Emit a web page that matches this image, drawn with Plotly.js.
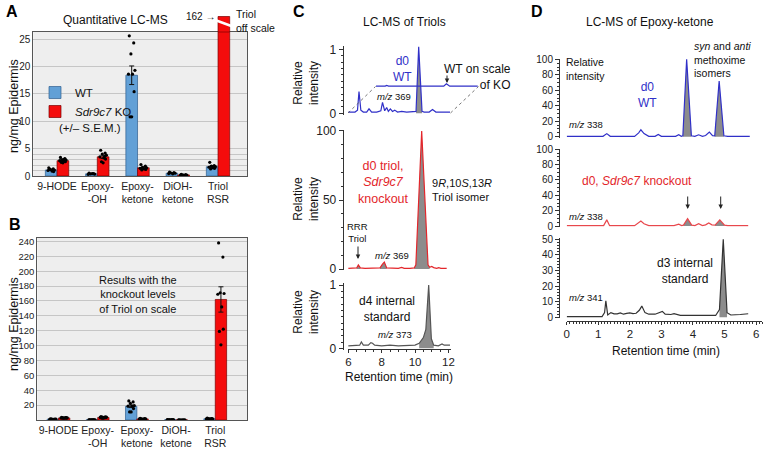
<!DOCTYPE html>
<html><head><meta charset="utf-8">
<script src="https://cdn.plot.ly/plotly-3.0.1.min.js"></script>
<style>html,body{margin:0;padding:0;background:#fff;} #chart{width:768px;height:451px;}</style>
</head><body><div id="chart"></div>
<script>
// ---------- DATA ----------
const categories = ['9-HODE', 'Epoxy-<br>-OH', 'Epoxy-<br>ketone', 'DiOH-<br>ketone', 'Triol<br>RSR'];
const wtMean = [1.1, 0.4, 18.4, 0.5, 1.7];
const wtSem  = [0.12, 0.05, 1.7, 0.05, 0.2];
const koMean = [2.8, 3.5, 1.5, 0.2, 162];
const koSem  = [0.15, 0.3, 0.15, 0.02, 17];
const wtPoints = [
  [1.5, 1.3, 1.2, 1.1, 1.0, 0.9, 0.8, 1.2],
  [0.55, 0.45, 0.4, 0.35, 0.3, 0.45],
  [25.6, 24.3, 22.3, 19.3, 18.6, 18.6, 15.4, 10.8, 10.8],
  [0.7, 0.6, 0.55, 0.5, 0.45, 0.4],
  [2.5, 1.9, 1.8, 1.7, 1.6, 1.5, 1.4, 1.3]
];
const koPoints = [
  [3.4, 3.2, 3.0, 2.9, 2.8, 2.7, 2.6, 2.5, 2.4, 3.1],
  [4.7, 4.2, 4.0, 3.8, 3.5, 3.3, 3.1, 2.6, 2.4, 3.6],
  [2.1, 1.8, 1.6, 1.5, 1.4, 1.3, 1.2, 1.1],
  [0.3, 0.25, 0.2, 0.18, 0.15, 0.12],
  [238, 219, 171, 170, 169, 152, 122, 119, 101]
];
const yTicksA = [0, 1, 2, 3, 4, 5, 10, 15, 20, 25];
const yTickTextA = ['0', '', '', '', '', '5', '10', '15', '20', '25'];
const yTicksB = [20, 40, 60, 80, 100, 120, 140, 160, 180, 200, 220, 240];

// LC-MS of triols (retention time, relative intensity)
const cWtX = [6.0,6.4,6.55,6.64,6.75,6.9,7.1,7.24,7.4,7.7,7.95,8.05,8.18,8.3,8.4,8.52,8.65,8.78,8.95,9.2,9.5,9.9,10.06,10.22,10.42,10.55,10.85,11.05,11.25,11.6,12.1];
const cWtY = [0.02,0.02,0.05,0.34,0.05,0.02,0.02,0.07,0.02,0.02,0.04,0.17,0.04,0.09,0.03,0.07,0.03,0.05,0.02,0.03,0.02,0.02,0.03,1.04,0.03,0.02,0.02,0.06,0.02,0.02,0.02];
const cKoX = [6.0,6.4,6.5,6.6,6.72,7.0,7.5,7.9,8.05,8.16,8.3,8.6,9.0,9.2,9.35,9.7,9.95,10.05,10.4,10.78,10.88,11.0,11.12,11.3,11.42,11.55,11.9];
const cKoY = [0.5,0.5,0.8,3.0,0.8,0.5,0.5,0.8,3.5,5.0,0.8,0.5,0.5,1.2,0.5,0.5,0.8,3.0,100,3.0,1.2,1.8,1.0,0.5,1.0,0.5,0.5];
const cD4X = [6.0,6.5,6.68,6.78,6.9,7.2,7.35,7.45,7.58,8.0,8.5,9.0,9.5,10.0,10.25,10.5,10.65,10.82,10.98,11.12,11.4,11.52,11.62,11.75,12.1];
const cD4Y = [0.04,0.04,0.05,0.1,0.05,0.05,0.09,0.08,0.05,0.04,0.05,0.04,0.04,0.05,0.08,0.17,0.3,1.0,0.15,0.05,0.04,0.05,0.07,0.05,0.05];

// LC-MS of epoxy-ketone
const dWtX = [0,1.15,1.27,1.38,2.15,2.28,2.35,2.45,2.6,2.8,2.9,3.0,3.45,3.55,3.63,3.68,3.8,3.95,4.06,4.18,4.3,4.4,4.52,4.62,4.69,4.83,4.98,5.1,5.8];
const dWtY = [0.5,0.5,4,0.5,0.5,5,9,4,0.5,0.5,3,0.5,0.5,2.5,0.6,1.2,100,1.2,0.6,2.5,0.6,1.5,6,1.5,1.2,72,1.2,0.5,0.5];
const dKoX = [0,1.17,1.27,1.36,2.15,2.28,2.35,2.45,2.6,3.4,3.55,3.64,3.7,3.83,3.96,4.06,4.18,4.3,4.4,4.5,4.6,4.7,4.85,5.0,5.1,5.75];
const dKoY = [0.5,0.5,8,0.5,0.5,4,6.5,3,0.5,0.5,2.5,0.6,1.2,9.6,1.2,0.6,3,0.6,1.5,4,1.5,1.2,8,1.2,0.5,0.5];
const dD3X = [0,1.12,1.2,1.24,1.3,1.4,1.5,1.6,1.7,1.8,1.9,2.0,2.1,2.2,2.3,2.38,2.48,2.6,2.8,2.95,3.03,3.12,3.3,3.4,3.6,4.0,4.4,4.72,4.84,4.96,5.08,5.2,5.5,5.75];
const dD3Y = [0.5,0.5,3,10.5,1.5,3,2.2,2.2,2.8,2,2.5,2.8,2.4,2.6,4.5,7.2,3,2,2,3,3.8,2,1.8,2.3,1.3,1.2,1.4,1.2,5,50,3,1.5,1.8,2.3];

// ---------- STYLE / HELPERS ----------
const W = 768, H = 451;
const X = p => p / W, Y = p => 1 - p / H;
const FONT = 'Arial, "Liberation Sans", Helvetica, sans-serif';
const BLUE = '#62a0d6', RED = '#f40c0c';
const TRBLUE = '#3030c8', TRRED = '#e3262b', FILL = '#8c8c8c';
const BARGAP = 0.42, HALF = (1 - BARGAP) / 2;
const jit = [-0.06, 0.05, -0.02, 0.08, -0.08, 0.02, 0.06, -0.04, 0.0, 0.04];
const idx = categories.map((c, i) => i);

function dots(pts, side) {
  const x = [], y = [];
  pts.forEach((arr, i) => arr.forEach((v, k) => { x.push(i + side * HALF / 2 + jit[k % jit.length]); y.push(v); }));
  return {x, y};
}
function seg(xs, ys, lo, hi) {
  const x = [], y = [];
  xs.forEach((v, i) => { if (v >= lo && v <= hi) { x.push(v); y.push(ys[i]); } });
  return {x, y};
}

const traces = [];
// Panels A and B
[['x', 'y', true], ['x2', 'y2', false]].forEach(([xa, ya, leg]) => {
  traces.push({type: 'bar', x: idx, y: wtMean, name: 'WT', showlegend: leg, xaxis: xa, yaxis: ya,
    marker: {color: BLUE, line: {color: '#2f5f8f', width: 0.7}},
    error_y: {type: 'data', array: wtSem, color: '#111', thickness: 1, width: 2.5}});
  traces.push({type: 'bar', x: idx, y: koMean, name: '<i>Sdr9c7</i> KO', showlegend: leg, xaxis: xa, yaxis: ya,
    marker: {color: RED, line: {color: '#7a0000', width: 0.7}},
    error_y: {type: 'data', array: koSem, color: '#111', thickness: 1, width: 2.5}});
  const dw = dots(wtPoints, -1), dk = dots(koPoints, 1);
  traces.push({type: 'scatter', mode: 'markers', x: dw.x, y: dw.y, xaxis: xa, yaxis: ya, showlegend: false,
    marker: {color: '#000', size: 3.2}});
  traces.push({type: 'scatter', mode: 'markers', x: dk.x, y: dk.y, xaxis: xa, yaxis: ya, showlegend: false,
    marker: {color: '#000', size: 3.2}});
});

function chrom(xs, ys, color, xa, ya, fills) {
  fills.forEach(([lo, hi]) => {
    const s = seg(xs, ys, lo, hi);
    traces.push({type: 'scatter', mode: 'lines', x: s.x, y: s.y, fill: 'tozeroy', fillcolor: FILL,
      line: {width: 0}, xaxis: xa, yaxis: ya, showlegend: false, hoverinfo: 'skip'});
  });
  traces.push({type: 'scatter', mode: 'lines', x: xs, y: ys, line: {color: color, width: 1.2},
    xaxis: xa, yaxis: ya, showlegend: false});
}
// Panel C
chrom(cWtX, cWtY, TRBLUE, 'x3', 'y3', [[10.0, 10.5]]);
chrom(cKoX, cKoY, TRRED, 'x3', 'y4', [[9.95, 10.88], [6.5, 6.72], [7.9, 8.3]]);
chrom(cD4X, cD4Y, '#555', 'x3', 'y5', [[10.2, 11.15]]);
// inset: WT on KO scale
traces.push({type: 'scatter', mode: 'lines', x: cWtX, y: cWtY, line: {color: TRBLUE, width: 1.2},
  xaxis: 'x4', yaxis: 'y6', showlegend: false});
// Panel D
chrom(dWtX, dWtY, TRBLUE, 'x5', 'y7', [[3.66, 3.97], [4.68, 5.0]]);
chrom(dKoX, dKoY, '#e8474c', 'x5', 'y8', [[3.68, 3.98], [4.68, 5.02]]);
chrom(dD3X, dD3Y, '#333', 'x5', 'y9', [[4.75, 5.1]]);

// ---------- AXES ----------
const tf = (s) => ({family: FONT, size: s, color: '#222'});
const boxAxis = {showline: true, mirror: true, linecolor: '#555', linewidth: 1, zeroline: false, ticks: ''};
const lcAx = {showline: true, linecolor: '#333', linewidth: 1, ticks: 'outside', ticklen: 4, tickcolor: '#333',
  showgrid: false, zeroline: false, anchor: 'free'};

const layout = {
  width: W, height: H, margin: {l: 0, r: 0, t: 0, b: 0},
  paper_bgcolor: '#fff', plot_bgcolor: 'rgba(0,0,0,0)',
  font: {family: FONT, color: '#111'},
  barmode: 'group', bargap: BARGAP, bargroupgap: 0,
  showlegend: true,
  legend: {x: X(35), y: Y(78), xanchor: 'left', yanchor: 'top', bgcolor: 'rgba(0,0,0,0)',
    font: {family: FONT, size: 11.5, color: '#111'}, itemwidth: 30, traceorder: 'normal'},
  xaxis: Object.assign({}, boxAxis, {domain: [X(33.3), X(247)], range: [-0.59, 4.72], anchor: 'y',
    tickmode: 'array', tickvals: idx, ticktext: categories, tickfont: tf(10.5), showgrid: false}),
  yaxis: Object.assign({}, boxAxis, {domain: [Y(176), Y(32)], range: [0, 26.3], anchor: 'x',
    tickmode: 'array', tickvals: yTicksA, ticktext: yTickTextA, tickfont: tf(10), showgrid: true, gridcolor: '#c6c6c6'}),
  xaxis2: Object.assign({}, boxAxis, {domain: [X(37.3), X(247)], range: [-0.54, 4.81], anchor: 'y2',
    tickmode: 'array', tickvals: idx, ticktext: categories, tickfont: tf(10.5), showgrid: false}),
  yaxis2: Object.assign({}, boxAxis, {domain: [Y(420), Y(237.7)], range: [0, 245], anchor: 'x2',
    tickmode: 'array', tickvals: yTicksB, tickfont: tf(9.5), showgrid: true, gridcolor: '#c6c6c6'}),
  // Panel C
  xaxis3: Object.assign({}, lcAx, {domain: [X(347.5), X(450.7)], range: [5.95, 12.14], position: Y(349),
    ticklen: 2.5, tick0: 6, dtick: 2, tickfont: tf(11.5), minor: {ticks: 'outside', ticklen: 2, dtick: 0.5, tickcolor: '#333'}}),
  yaxis3: Object.assign({}, lcAx, {domain: [Y(114.6), Y(45.5)], range: [-0.02, 1.06], position: X(342.7),
    tick0: 0, dtick: 1, tickfont: tf(12), minor: {ticks: 'outside', ticklen: 2, dtick: 0.1, tickcolor: '#333'}}),
  yaxis4: Object.assign({}, lcAx, {domain: [Y(270.4), Y(129.6)], range: [-1, 101], position: X(342.7),
    tick0: 0, dtick: 50, tickfont: tf(12), minor: {ticks: 'outside', ticklen: 2, dtick: 10, tickcolor: '#333'}}),
  yaxis5: Object.assign({}, lcAx, {domain: [Y(349.6), Y(283.1)], range: [-0.02, 1.03], position: X(342.7),
    tick0: 0, dtick: 1, tickfont: tf(12), minor: {ticks: 'outside', ticklen: 2, dtick: 0.1, tickcolor: '#333'}}),
  xaxis4: {domain: [X(375.2), X(478.4)], range: [5.95, 12.14], visible: false, anchor: 'y6'},
  yaxis6: {domain: [Y(87.5), Y(27)], range: [-0.5, 24], visible: false, anchor: 'x4'},
  // Panel D
  xaxis5: Object.assign({}, lcAx, {domain: [X(566.7), X(762.4)], range: [0, 6.2], position: Y(321),
    ticklen: 2.5, tick0: 0, dtick: 1, tickfont: tf(11.5), minor: {ticks: 'outside', ticklen: 2, dtick: 0.1, tickcolor: '#333'}}),
  yaxis7: Object.assign({}, lcAx, {domain: [Y(137.5), Y(58.5)], range: [-1, 101], position: X(559),
    tick0: 0, dtick: 20, tickfont: tf(10), minor: {ticks: 'outside', ticklen: 2, dtick: 5, tickcolor: '#333'}}),
  yaxis8: Object.assign({}, lcAx, {domain: [Y(226.8), Y(148.5)], range: [-1, 101], position: X(559),
    tick0: 0, dtick: 20, tickfont: tf(10), minor: {ticks: 'outside', ticklen: 2, dtick: 5, tickcolor: '#333'}}),
  yaxis9: Object.assign({}, lcAx, {domain: [Y(318.1), Y(237.7)], range: [-0.5, 51], position: X(559),
    tick0: 0, dtick: 10, tickfont: tf(10), minor: {ticks: 'outside', ticklen: 2, dtick: 2, tickcolor: '#333'}}),
};

// ---------- SHAPES ----------
layout.shapes = [
  {type: 'rect', xref: 'x domain', yref: 'y domain', x0: 0, x1: 1, y0: 0, y1: 1, fillcolor: '#eeeeee', line: {width: 0}, layer: 'below'},
  {type: 'rect', xref: 'x2 domain', yref: 'y2 domain', x0: 0, x1: 1, y0: 0, y1: 1, fillcolor: '#eeeeee', line: {width: 0}, layer: 'below'},
  // off-scale continuation of the KO Triol bar in A
  {type: 'rect', xref: 'x', yref: 'paper', x0: 4, x1: 4 + HALF, y0: Y(32), y1: Y(16.5), fillcolor: RED, line: {color: '#7a0000', width: 0.7}},
  {type: 'line', xref: 'x', yref: 'paper', x0: 4 - 0.04, x1: 4 + HALF + 0.04, y0: Y(20.5), y1: Y(26), line: {color: '#fff', width: 2.5}},
  // perspective lines for the WT-on-KO-scale inset in C
  {type: 'line', xref: 'paper', yref: 'paper', x0: X(348), y0: Y(113), x1: X(375.5), y1: Y(86.5), line: {color: '#555', width: 0.8, dash: 'dot'}},
  {type: 'line', xref: 'paper', yref: 'paper', x0: X(450.5), y0: Y(113), x1: X(478.5), y1: Y(86.5), line: {color: '#555', width: 0.8, dash: 'dot'}}
];

// ---------- ANNOTATIONS ----------
function T(text, x, y, o = {}) {
  return {text, xref: 'paper', yref: 'paper', x: X(x), y: Y(y), showarrow: false,
    xanchor: o.xanchor || 'center', yanchor: 'middle', align: o.align || 'center',
    textangle: o.angle || 0,
    font: {family: FONT, size: o.size || 12, color: o.color || '#111'}};
}
function ARW(x, yTail, yHead) {
  return {text: '', xref: 'paper', yref: 'paper', x: X(x), y: Y(yHead), ax: 0, ay: yTail - yHead,
    showarrow: true, arrowhead: 2, arrowsize: 0.9, arrowwidth: 1, arrowcolor: '#222'};
}
layout.annotations = [
  T('<b>A</b>', 12, 11, {size: 16, color: '#000'}),
  T('<b>B</b>', 15, 224, {size: 16, color: '#000'}),
  T('<b>C</b>', 299, 11, {size: 16, color: '#000'}),
  T('<b>D</b>', 537, 11, {size: 16, color: '#000'}),
  // A
  T('Quantitative LC-MS', 115, 20, {size: 12}),
  T('162 \u2192', 200, 16, {size: 10}),
  T('Triol<br>off scale', 234, 21, {size: 10.5, xanchor: 'left', align: 'left'}),
  T('(+/\u2013 S.E.M.)', 90, 128, {size: 11.5}),
  T('ng/mg Epidermis', 14, 106, {size: 12.5, angle: -90}),
  // B
  T('ng/mg Epidermis', 14, 324, {size: 12.5, angle: -90}),
  T('Results with the<br>knockout levels<br>of Triol on scale', 138, 294, {size: 11}),
  // C
  T('LC-MS of Triols', 404, 22, {size: 12}),
  T('Relative<br>intensity', 306, 83, {size: 12, angle: -90}),
  T('Relative<br>intensity', 306, 199, {size: 12, angle: -90}),
  T('Relative<br>intensity', 306, 312, {size: 12, angle: -90}),
  T('d0<br>WT', 402, 69, {size: 12, color: TRBLUE}),
  T('WT on scale<br>of KO', 513, 76.5, {size: 12, xanchor: 'right', align: 'right'}),
  ARW(447, 74, 83),
  T('<i>m/z</i> 369', 375, 96, {size: 9.5, xanchor: 'left'}),
  T('d0 triol,<br><i>Sdr9c7</i><br>knockout', 383, 182, {size: 12.5, color: TRRED}),
  T('9<i>R</i>,10<i>S</i>,13<i>R</i><br>Triol isomer', 430, 190, {size: 11, xanchor: 'left', align: 'left'}),
  T('RRR<br>Triol', 357, 232.5, {size: 9.5}),
  ARW(358, 245, 259),
  T('<i>m/z</i> 369', 373, 255, {size: 9.5, xanchor: 'left'}),
  T('d4 internal<br>standard', 387, 308.5, {size: 12}),
  T('<i>m/z</i> 373', 376, 334, {size: 9.5, xanchor: 'left'}),
  T('Retention time (min)', 399, 377, {size: 12}),
  // D
  T('LC-MS of Epoxy-ketone', 650, 22, {size: 12}),
  T('Relative<br>intensity', 564, 69.5, {size: 10.5, xanchor: 'left', align: 'left'}),
  T('d0<br>WT', 647, 95, {size: 12, color: TRBLUE}),
  T('<i>syn</i> and <i>anti</i><br>methoxime<br>isomers', 692, 59.5, {size: 10.5, xanchor: 'left', align: 'left'}),
  T('<i>m/z</i> 338', 567, 125, {size: 9.5, xanchor: 'left'}),
  T('d0, <i>Sdr9c7</i> knockout', 637, 181, {size: 12, color: TRRED}),
  ARW(687.7, 195, 209),
  ARW(720.7, 195, 209),
  T('<i>m/z</i> 338', 567, 216, {size: 9.5, xanchor: 'left'}),
  T('d3 internal<br>standard', 685, 271, {size: 12}),
  T('<i>m/z</i> 341', 567, 297, {size: 9.5, xanchor: 'left'}),
  T('Retention time (min)', 666, 351, {size: 12})
];

Plotly.newPlot('chart', traces, layout, {staticPlot: true});
</script></body></html>
